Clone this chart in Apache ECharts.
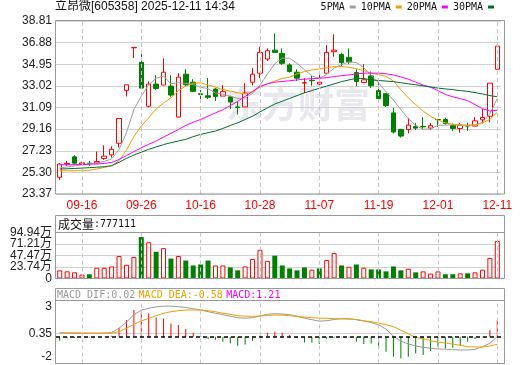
<!DOCTYPE html>
<html><head><meta charset="utf-8">
<script src="https://cdn.jsdelivr.net/npm/echarts@6/dist/echarts.min.js"></script>
<style>html,body{margin:0;padding:0;background:#fff}#c{width:520px;height:365px}</style>
</head><body><div id="c"></div>
<script>
const dates = ['09-11','09-12','09-15','09-16','09-17','09-18','09-19','09-22','09-23','09-24','09-25','09-26','09-29','09-30','10-09','10-10','10-13','10-14','10-15','10-16','10-17','10-20','10-21','10-22','10-23','10-24','10-27','10-28','10-29','10-30','10-31','11-03','11-04','11-05','11-06','11-07','11-10','11-11','11-12','11-13','11-14','11-17','11-18','11-19','11-20','11-21','11-24','11-25','11-26','11-27','11-28','12-01','12-02','12-03','12-04','12-05','12-08','12-09','12-10','12-11'];
const labelDates = ['09-16','09-26','10-16','10-28','11-07','11-19','12-01','12-11'];
const opens  = [24.86,26.05,26.69,26.04,26.12,26.13,26.54,26.86,27.90,32.62,36.42,35.12,31.20,33.18,33.09,33.00,30.23,34.06,33.35,32.32,32.14,32.73,32.11,32.05,31.14,31.14,33.35,34.15,35.42,36.21,35.92,34.89,34.24,33.27,33.52,33.18,34.15,36.07,35.83,35.57,34.21,33.32,33.91,32.59,32.32,30.61,29.13,29.13,29.40,29.40,29.25,30.02,30.02,29.49,29.22,29.49,29.43,29.99,30.31,34.50];
const closes = [26.04,26.10,26.12,26.15,26.08,26.27,26.75,27.36,30.11,33.12,36.45,32.82,33.18,32.79,34.24,32.20,33.80,33.12,32.53,32.26,32.00,32.08,32.50,31.58,31.10,32.38,34.06,36.01,36.16,36.01,35.03,34.30,33.71,33.30,33.48,33.35,36.01,36.21,35.10,35.15,33.41,33.56,33.03,31.88,31.26,28.90,28.54,29.52,29.25,29.36,29.46,29.99,29.67,29.22,29.49,29.43,29.90,30.20,33.26,36.57];
const lows   = [24.65,25.89,26.00,25.98,25.89,26.04,26.42,26.63,27.51,32.08,35.50,32.80,31.11,32.67,33.09,32.05,30.23,32.97,32.47,31.85,31.85,31.67,32.11,30.96,30.46,31.14,33.06,33.71,35.24,36.01,34.89,34.21,33.47,32.38,33.03,32.76,34.15,35.62,34.80,34.95,32.97,33.32,32.82,31.79,31.14,28.78,28.40,28.78,29.08,29.13,29.08,29.37,29.55,29.00,28.84,29.00,29.43,29.67,29.78,34.50];
const highs  = [26.13,26.33,26.83,26.24,26.33,27.16,27.72,27.63,30.11,33.12,36.45,35.92,33.41,33.97,35.48,33.97,34.15,34.50,33.62,32.64,33.71,32.82,33.09,32.14,31.64,33.26,34.60,36.51,36.36,37.69,36.36,35.03,34.50,33.71,33.91,34.00,36.66,37.63,35.98,36.36,34.50,34.95,34.30,33.41,32.32,31.05,29.19,30.17,29.72,30.23,29.70,30.08,30.17,29.67,29.72,29.72,30.23,30.96,33.26,36.57];
const ma5  = [25.70,25.78,25.88,25.98,26.08,26.15,26.28,26.50,27.33,28.85,30.90,32.10,33.12,33.70,33.90,33.20,33.30,33.24,33.15,32.90,32.77,32.38,32.28,32.10,31.90,31.94,32.35,33.08,34.05,35.00,35.50,35.49,35.04,34.46,33.92,33.67,34.05,34.60,34.93,35.17,35.10,34.64,33.95,33.27,32.50,31.76,30.90,30.10,29.49,29.15,29.18,29.50,29.52,29.54,29.55,29.50,29.52,29.75,30.53,31.90];
const ma10 = [25.45,25.45,25.44,25.45,25.50,25.60,25.74,25.89,26.33,27.30,28.50,29.43,30.17,30.96,31.49,31.95,32.60,33.00,33.25,33.30,33.10,32.90,32.70,32.55,32.40,32.30,32.50,32.90,33.20,33.45,33.68,33.80,34.09,34.30,34.44,34.53,34.65,34.74,34.74,34.68,34.55,34.39,34.15,34.02,33.86,33.45,32.67,31.94,31.35,30.76,30.31,29.96,29.72,29.58,29.49,29.49,29.55,29.72,30.02,30.67];
const ma20 = [25.98,25.98,25.99,26.00,26.02,26.05,26.10,26.18,26.45,26.80,27.15,27.50,27.80,28.10,28.45,28.78,29.13,29.49,29.78,30.02,30.31,30.61,30.90,31.26,31.64,32.08,32.53,32.97,33.20,33.35,33.41,33.48,33.55,33.62,33.66,33.70,33.75,33.85,33.93,34.00,34.08,34.15,34.16,34.15,34.10,34.00,33.82,33.62,33.35,33.10,32.90,32.60,32.25,32.05,31.88,31.70,31.35,30.98,30.78,30.85];
const ma30 = [25.60,25.62,25.65,25.68,25.72,25.76,25.80,25.90,26.20,26.55,26.85,27.10,27.36,27.57,27.78,27.95,28.10,28.25,28.49,28.69,28.84,28.99,29.22,29.49,29.72,30.02,30.31,30.70,31.05,31.40,31.65,31.90,32.15,32.40,32.60,32.80,33.00,33.20,33.40,33.55,33.70,33.68,33.55,33.50,33.45,33.40,33.30,33.20,33.12,33.02,32.92,32.82,32.75,32.68,32.60,32.53,32.42,32.30,32.15,32.05];
const volumes = [16.8,14.8,12.8,8.1,8.7,22.2,22.2,24.9,46.5,28.3,44.5,85.5,74.8,55.2,62.7,41.1,46.5,37.0,26.9,28.9,37.0,26.9,26.9,22.9,16.8,24.9,40.4,59.2,36.4,47.1,26.9,20.8,16.8,22.8,18.2,20.8,38.4,52.5,26.9,24.2,28.9,22.2,18.8,18.8,14.7,24.9,16.8,20.2,12.7,14.7,10.1,14.7,8.7,8.7,10.7,10.7,12.7,18.2,42.4,77.71];
const dif  = [0.38,0.36,0.35,0.34,0.34,0.34,0.36,0.42,0.85,1.45,2.20,2.65,2.85,2.98,3.05,3.05,3.00,2.92,2.80,2.68,2.50,2.35,2.20,2.05,1.90,1.85,1.90,2.07,2.25,2.30,2.27,2.20,2.05,1.85,1.70,1.55,1.60,1.72,1.80,1.80,1.70,1.57,1.42,1.17,0.75,0.05,-0.45,-0.72,-0.93,-1.06,-1.16,-1.23,-1.25,-1.30,-1.33,-1.32,-1.26,-1.00,-0.66,0.00];
const dea  = [0.40,0.39,0.38,0.37,0.36,0.35,0.35,0.36,0.50,0.84,1.24,1.57,1.84,2.10,2.34,2.50,2.60,2.67,2.67,2.67,2.60,2.50,2.34,2.24,2.10,2.05,2.04,2.07,2.12,2.17,2.15,2.10,2.03,1.97,1.90,1.86,1.84,1.80,1.78,1.76,1.72,1.60,1.50,1.37,1.20,1.00,0.65,0.30,-0.08,-0.20,-0.40,-0.55,-0.62,-0.75,-0.85,-1.00,-1.02,-1.03,-0.93,-0.76];
const macdHist = [-0.40,-0.16,-0.12,-0.05,-0.08,-0.03,0.02,0.10,0.90,1.67,2.67,2.50,2.33,1.93,1.83,1.33,1.17,0.77,0.40,0.05,-0.23,-0.30,-0.50,-0.67,-0.90,-0.77,-0.43,0.10,0.40,0.50,0.40,0.17,-0.10,-0.57,-0.60,-0.73,-0.20,-0.10,-0.05,-0.07,-0.50,-0.73,-0.67,-1.17,-1.50,-2.00,-2.17,-2.00,-1.67,-1.83,-1.43,-1.00,-1.17,-1.10,-0.90,-0.50,-0.23,-0.05,0.67,1.67];
const priceTicks = [23.37,25.30,27.23,29.16,31.09,33.02,34.95,36.88,38.81];
const volTicks = [0,23.74,47.47,71.21,94.94];
const macdTicks = [-2,0.35,3];
const macdLines = [0.35];

const RED = '#ff0000', GREEN = '#008000';
const FONT = "'Liberation Sans','Noto Sans CJK SC',sans-serif";
const MONO = "'DejaVu Sans Mono',monospace";
const candleData = dates.map((d, i) => [opens[i], closes[i], lows[i], highs[i]]);
const volData = volumes.map((v, i) => {
  const up = i === 0 ? closes[0] >= opens[0] : closes[i] >= closes[i - 1];
  return { value: v, itemStyle: up ? { color: '#ffffff', borderColor: RED, borderWidth: 1 } : { color: GREEN } };
});
const histData = macdHist.map(v => ({ value: v, itemStyle: { color: v >= 0 ? RED : GREEN } }));
const volFmt = v => v === 0 ? '0' : v.toFixed(2) + '万';

const vDash = (xi, yi) => ({
  type: 'line', xAxisIndex: xi, yAxisIndex: yi, data: [], z: 1, silent: true,
  markLine: { symbol: 'none', silent: true, animation: false, label: { show: false },
    lineStyle: { color: '#c8c8c8', type: [4, 3], width: 1 },
    data: labelDates.map(d => ({ xAxis: d })) }
});
const xAx = (gi, showLabel) => ({
  type: 'category', gridIndex: gi, data: dates, boundaryGap: true,
  axisLine: { show: false }, axisTick: { show: false }, splitLine: { show: false },
  axisLabel: showLabel ? { show: true, color: RED, fontSize: 12, fontFamily: FONT, margin: 6,
    interval: (idx) => idx % 8 === 3 } : { show: false }
});
const yLabel = { color: '#222', fontSize: 12, fontFamily: FONT, margin: 4,
  showMinLabel: true, showMaxLabel: true, hideOverlap: false };
const maLine = (name, arr, color) => ({
  name, type: 'line', data: arr, xAxisIndex: 0, yAxisIndex: 0, showSymbol: false, symbol: 'none',
  lineStyle: { width: 1, color }, itemStyle: { color }, z: 3, silent: true
});

const chart = echarts.init(document.getElementById('c'), null, { renderer: 'canvas' });
chart.setOption({
  animation: false,
  backgroundColor: '#ffffff',
  title: { text: '立昂微[605358] 2025-12-11 14:34', left: 55, top: 1, padding: 0,
    textStyle: { fontSize: 12, fontWeight: 'normal', color: '#111', fontFamily: FONT } },
  legend: { data: ['5PMA', '10PMA', '20PMA', '30PMA'], right: 26, top: 2, padding: 0, align: 'right',
    icon: 'rect', itemWidth: 6, itemHeight: 3, itemGap: 5, selectedMode: false,
    textStyle: { fontSize: 10, fontFamily: MONO, color: '#111' } },
  grid: [
    { left: 56, top: 21, width: 445, height: 173 },
    { left: 56, top: 232.5, width: 445, height: 46 },
    { left: 56, top: 300.5, width: 445, height: 63 }
  ],
  xAxis: [xAx(0, true), xAx(1, false), xAx(2, false)],
  yAxis: [
    { type: 'value', gridIndex: 0, min: 23.37, max: 38.81, interval: 1.93, axisLine: { show: false },
      axisTick: { show: false, customValues: priceTicks },
      axisLabel: Object.assign({ customValues: priceTicks, formatter: v => v.toFixed(2) }, yLabel),
      splitLine: { show: true, lineStyle: { color: '#d2d2d2', width: 1 } } },
    { type: 'value', gridIndex: 1, min: 0, max: 94.94, interval: 23.735, axisLine: { show: false },
      axisTick: { show: false, customValues: volTicks },
      axisLabel: Object.assign({ customValues: volTicks.filter((v, i) => i % 2 === 0), formatter: volFmt }, yLabel),
      splitLine: { show: true, lineStyle: { color: '#d2d2d2', width: 1 } } },
    { type: 'value', gridIndex: 2, min: -2.68, max: 3.62, axisLine: { show: false },
      axisTick: { show: false, customValues: macdLines },
      axisLabel: Object.assign({ customValues: macdTicks, formatter: v => String(v) }, yLabel),
      splitLine: { show: true, lineStyle: { color: '#d2d2d2', width: 1 } } },
    { type: 'value', gridIndex: 1, min: 0, max: 94.94, position: 'left', axisLine: { show: false },
      axisTick: { show: false, customValues: volTicks.filter((v, i) => i % 2 === 1) },
      axisLabel: Object.assign({ customValues: volTicks.filter((v, i) => i % 2 === 1), formatter: volFmt }, yLabel),
      splitLine: { show: false } }
  ],
  graphic: [
    { type: 'text', left: 226, top: 86, z: -1, silent: true,
      style: { text: '东方财富', fill: '#e8e8ee', font: "bold 36px 'Noto Sans CJK SC'" } },
    { type: 'rect', shape: { x: 55.5, y: 20.5, width: 449, height: 173.5 }, style: { fill: 'none', stroke: '#999', lineWidth: 1 }, silent: true, z: 10 },
    { type: 'rect', shape: { x: 55.5, y: 215.5, width: 449, height: 63 }, style: { fill: 'none', stroke: '#999', lineWidth: 1 }, silent: true, z: 10 },
    { type: 'line', shape: { x1: 55.5, y1: 232.5, x2: 504.5, y2: 232.5 }, style: { stroke: '#999', lineWidth: 1 }, silent: true, z: 10 },
    { type: 'rect', shape: { x: 55.5, y: 288.5, width: 449, height: 75 }, style: { fill: 'none', stroke: '#999', lineWidth: 1 }, silent: true, z: 10 },
    { type: 'line', shape: { x1: 55.5, y1: 300.5, x2: 504.5, y2: 300.5 }, style: { stroke: '#999', lineWidth: 1 }, silent: true, z: 10 },
    { type: 'text', x: 58, y: 224, silent: true, z: 10,
      style: { text: '{a|成交量}{b|:777111}', verticalAlign: 'middle',
        rich: { a: { fontSize: 12, fontFamily: "'Noto Sans CJK SC'", fill: '#111' },
                b: { fontSize: 10, fontFamily: MONO, fill: '#111' } } } },
    { type: 'text', x: 57, y: 295, silent: true, z: 10,
      style: { text: '{g|MACD_DIF:0.02} {o|MACD_DEA:-0.58} {m|MACD:1.21}', verticalAlign: 'middle',
        rich: { g: { fontSize: 10, fontFamily: MONO, fill: '#999999' },
                o: { fontSize: 10, fontFamily: MONO, fill: '#f0a000' },
                m: { fontSize: 10, fontFamily: MONO, fill: '#ff00ff' } } } }
  ],
  series: [
    vDash(0, 0), vDash(1, 1), vDash(2, 2),
    { type: 'candlestick', xAxisIndex: 0, yAxisIndex: 0, data: candleData, barWidth: 5, z: 2, silent: true,
      itemStyle: { color: '#ffffff', color0: GREEN, borderColor: RED, borderColor0: GREEN, borderWidth: 1 } },
    maLine('5PMA', ma5, '#a0a0a0'),
    maLine('10PMA', ma10, '#f0a000'),
    maLine('20PMA', ma20, '#ff00ff'),
    maLine('30PMA', ma30, '#006f2e'),
    { type: 'bar', xAxisIndex: 1, yAxisIndex: 1, data: volData, barWidth: 5, z: 2, silent: true },
    { type: 'bar', xAxisIndex: 2, yAxisIndex: 2, data: histData, barWidth: 1, z: 2, silent: true,
      markLine: { symbol: 'none', silent: true, animation: false, label: { show: false },
        lineStyle: { color: '#000', type: [4, 3], width: 1.5 }, data: [{ yAxis: 0 }] } },
    { type: 'line', xAxisIndex: 2, yAxisIndex: 2, data: dif, showSymbol: false, symbol: 'none', z: 3, silent: true,
      lineStyle: { width: 1, color: '#999999' } },
    { type: 'line', xAxisIndex: 2, yAxisIndex: 2, data: dea, showSymbol: false, symbol: 'none', z: 3, silent: true,
      lineStyle: { width: 1, color: '#f0a000' } }
  ]
});
</script></body></html>
